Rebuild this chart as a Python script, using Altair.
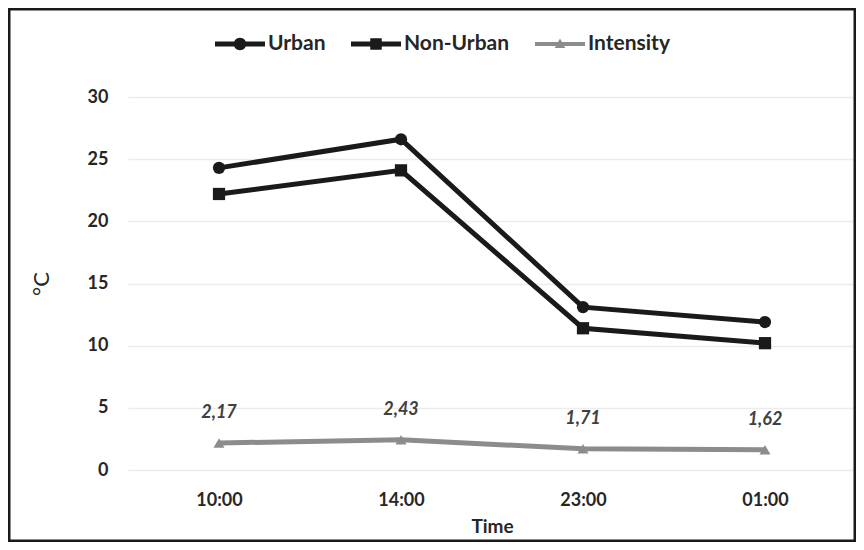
import altair as alt
import pandas as pd

times = ["10:00", "14:00", "23:00", "01:00"]
series_names = ["Urban", "Non-Urban", "Intensity"]
urban = [24.3, 26.6, 13.1, 11.9]
non_urban = [22.2, 24.1, 11.4, 10.2]
intensity = [2.17, 2.43, 1.71, 1.62]

series_colors = ["#1a1a1a", "#1a1a1a", "#8c8c8c"]
series_shapes = ["circle", "square", "triangle-up"]
series_sizes = [150, 150, 120]
legend_paths = [
    "M-1,-0.1L1,-0.1L1,0.1L-1,0.1Z M0.25,0A0.25,0.25,0,1,1,-0.25,0A0.25,0.25,0,1,1,0.25,0Z",
    "M-1,-0.1L1,-0.1L1,0.1L-1,0.1Z M-0.23,-0.23L0.23,-0.23L0.23,0.23L-0.23,0.23Z",
    "M-1,-0.08L1,-0.08L1,0.08L-1,0.08Z M0,-0.22L0.21,0.16L-0.21,0.16Z",
]

rows = []
for name, vals, col, shp, sz in zip(series_names, [urban, non_urban, intensity],
                                    series_colors, series_shapes, series_sizes):
    for t, v in zip(times, vals):
        rows.append({"series": name, "time": t, "value": v, "col": col,
                     "shp": shp, "sz": sz, "label": f"{v:.2f}".replace(".", ",")})
df = pd.DataFrame(rows)

FONT = "Lato"
TXT = "#262626"
W, H = 728, 373

x_enc = alt.X("time:N", sort=times, scale=alt.Scale(type="point", padding=0.5),
              axis=alt.Axis(title="Time", labelFont=FONT, labelFontWeight="bold",
                            labelFontSize=18, labelColor=TXT, labelPadding=21,
                            titleFont=FONT, titleFontWeight="bold", titleFontSize=19,
                            titleColor=TXT, titlePadding=8, domain=False, ticks=False,
                            grid=False, labelAngle=0))
y_enc = alt.Y("value:Q", scale=alt.Scale(domain=[0, 30]),
              axis=alt.Axis(title="°C", values=[0, 5, 10, 15, 20, 25, 30],
                            labelFont=FONT, labelFontWeight="bold", labelFontSize=18,
                            labelColor=TXT, labelPadding=20, titleFont=FONT,
                            titleFontWeight="normal", titleFontSize=22, titleColor=TXT,
                            titlePadding=34, domain=False, ticks=False, grid=True,
                            gridColor="#ececec", gridWidth=1.5))

base = alt.Chart(df)

lines = base.mark_line(strokeWidth=5).encode(
    x=x_enc, y=y_enc,
    color=alt.Color("col:N", scale=None),
    detail="series:N",
)

points = base.mark_point(filled=True, opacity=1).encode(
    x=x_enc, y=y_enc,
    color=alt.Color("col:N", scale=None),
    shape=alt.Shape("shp:N", scale=None),
    size=alt.Size("sz:Q", scale=None),
)

labels = base.transform_filter(alt.datum.series == "Intensity").mark_text(
    dy=-30, font=FONT, fontSize=18, fontStyle="italic", fontWeight="bold", color="#404040"
).encode(x=x_enc, y=y_enc, text="label:N")

legend = alt.Legend(title=None, orient="none", legendX=87, legendY=-78,
                    direction="horizontal", symbolSize=2500, labelOffset=3,
                    columnPadding=25, labelFont=FONT, labelFontWeight="bold",
                    labelFontSize=21, labelColor=TXT, symbolStrokeWidth=0)

legend_layer = base.transform_filter("false").mark_point(filled=True, opacity=1).encode(
    x=x_enc, y=y_enc,
    color=alt.Color("series:N", scale=alt.Scale(domain=series_names, range=series_colors),
                    legend=legend),
    shape=alt.Shape("series:N", scale=alt.Scale(domain=series_names, range=legend_paths),
                    legend=legend),
)

border = alt.Chart(alt.Data(values=[{"a": 1}])).mark_rect(
    fillOpacity=0, stroke="#1a1a1a", strokeWidth=5
).encode(x=alt.value(-120), x2=alt.value(W), y=alt.value(-89), y2=alt.value(445))

chart = alt.layer(lines, points, labels, legend_layer, border).properties(
    width=W, height=H,
    autosize=alt.AutoSizeParams(type="none"),
    padding={"left": 120, "top": 89, "right": 0, "bottom": 72},
    background="white",
).configure_view(stroke=None)

chart.save("out.html", embed_options={"renderer": "svg", "actions": False})
